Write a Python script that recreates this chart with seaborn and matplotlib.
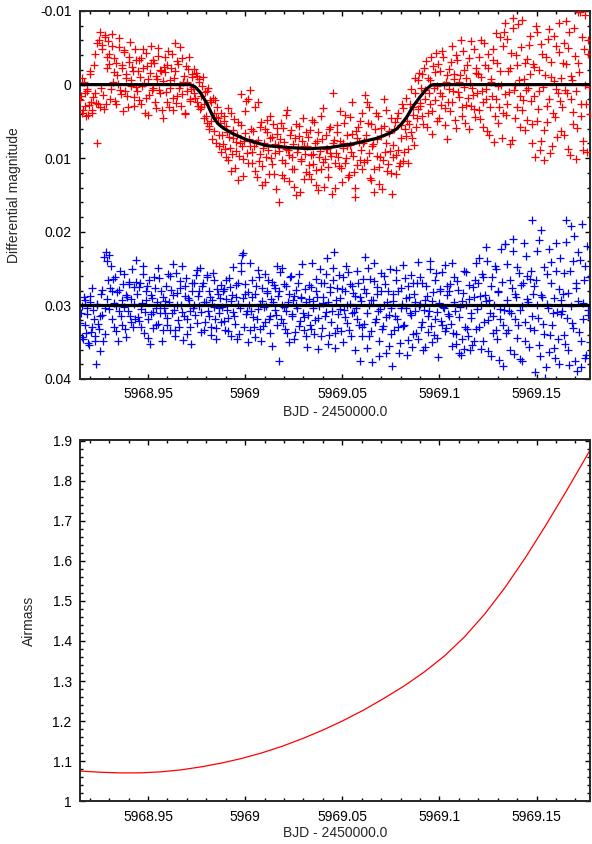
import matplotlib
matplotlib.use("Agg")
import numpy as np
import pandas as pd
import matplotlib.pyplot as plt
import seaborn as sns
from matplotlib.ticker import MultipleLocator, FuncFormatter

# --- Data ---
BJD_START = 5968.915   # BJD - 2450000.0 at the left edge

# exposure times, minutes after BJD_START (two interleaved blocks of frames)
TIME_MIN = [
    0.3, 1.3, 2.4, 3.4, 4.5, 5.5, 6.6, 7.6, 8.7, 9.8, 10.8, 11.8, 12.9, 14.0, 15.0, 16.1, 17.1, 18.2, 19.2, 20.3,
    21.3, 22.4, 23.4, 24.5, 25.5, 26.6, 27.6, 28.7, 29.7, 30.8, 31.8, 32.9, 33.9, 35.0, 36.0, 37.1, 38.1, 39.2, 40.2, 41.3,
    42.3, 43.4, 44.4, 45.5, 46.5, 47.6, 48.6, 49.7, 50.7, 51.8, 52.8, 53.9, 54.9, 56.0, 57.0, 58.1, 59.1, 60.2, 61.2, 62.3,
    63.3, 64.4, 65.4, 66.5, 67.5, 68.6, 69.6, 70.7, 71.7, 72.8, 73.8, 74.9, 75.9, 77.0, 78.0, 79.1, 80.1, 81.2, 82.2, 83.3,
    84.3, 85.3, 86.4, 87.4, 88.5, 89.5, 90.6, 91.6, 92.7, 93.8, 94.8, 95.8, 96.9, 98.0, 99.0, 100.1, 101.1, 102.2, 103.2, 104.3,
    105.3, 106.4, 107.4, 108.5, 109.5, 110.6, 111.6, 112.7, 113.7, 114.8, 115.8, 116.9, 117.9, 119.0, 120.0, 121.1, 122.1, 123.2, 124.2, 125.3,
    126.3, 127.4, 128.4, 129.5, 130.5, 131.6, 132.6, 133.7, 134.7, 135.8, 136.8, 137.9, 138.9, 140.0, 141.0, 142.1, 143.1, 144.2, 145.2, 146.3,
    147.3, 148.4, 149.4, 150.5, 151.5, 152.6, 153.6, 154.7, 155.7, 156.8, 157.8, 158.9, 159.9, 161.0, 162.0, 163.1, 164.1, 165.2, 166.2, 167.3,
    168.3, 169.4, 170.4, 171.5, 172.5, 173.6, 174.6, 175.7, 176.7, 177.8, 178.8, 179.9, 180.9, 182.0, 183.0, 184.1, 185.1, 186.2, 187.2, 188.3,
    189.3, 190.4, 191.4, 192.5, 193.5, 194.6, 195.6, 196.7, 197.7, 198.8, 199.8, 200.9, 201.9, 203.0, 204.0, 205.1, 206.1, 207.2, 208.2, 209.3,
    210.3, 211.4, 212.4, 213.5, 214.5, 215.6, 216.6, 217.7, 218.7, 219.8, 220.8, 221.9, 222.9, 224.0, 225.0, 226.1, 227.1, 228.2, 229.2, 230.3,
    231.3, 232.3, 233.4, 234.4, 235.5, 236.5, 237.6, 238.6, 239.7, 240.8, 241.8, 242.8, 243.9, 245.0, 246.0, 247.1, 248.1, 249.2, 250.2, 251.3,
    252.3, 253.4, 254.4, 255.5, 256.5, 257.6, 258.6, 259.7, 260.7, 261.8, 262.8, 263.9, 264.9, 266.0, 267.0, 268.1, 269.1, 270.2, 271.2, 272.3,
    273.3, 274.4, 275.4, 276.5, 277.5, 278.6, 279.6, 280.7, 281.7, 282.8, 283.8, 284.9, 285.9, 287.0, 288.0, 289.1, 290.1, 291.2, 292.2, 293.3,
    294.3, 295.4, 296.4, 297.5, 298.5, 299.6, 300.6, 301.7, 302.7, 303.8, 304.8, 305.9, 306.9, 308.0, 309.0, 310.1, 311.1, 312.2, 313.2, 314.3,
    315.3, 316.4, 317.4, 318.5, 319.5, 320.6, 321.6, 322.7, 323.7, 324.8, 325.8, 326.9, 327.9, 329.0, 330.0, 331.1, 332.1, 333.2, 334.2, 335.3,
    336.3, 337.4, 338.4, 339.5, 340.5, 341.6, 342.6, 343.7, 344.7, 345.8, 346.8, 347.9, 348.9, 350.0, 351.0, 352.1, 353.1, 354.2, 355.2, 356.3,
    357.3, 358.4, 359.4, 360.5, 361.5, 362.6, 363.6, 364.7, 365.7, 366.8, 367.8, 368.9, 369.9, 371.0, 372.0, 373.1, 374.1, 375.2, 376.2, 377.3,
    0.8, 1.8, 2.9, 3.9, 5.0, 6.0, 7.1, 8.1, 9.2, 10.3, 11.3, 12.3, 13.4, 14.5, 15.5, 16.6, 17.6, 18.7, 19.7, 20.8,
    21.8, 22.8, 23.9, 24.9, 26.0, 27.0, 28.1, 29.1, 30.2, 31.3, 32.3, 33.3, 34.4, 35.5, 36.5, 37.6, 38.6, 39.7, 40.7, 41.8,
    42.8, 43.8, 44.9, 45.9, 47.0, 48.0, 49.1, 50.1, 51.2, 52.3, 53.3, 54.3, 55.4, 56.5, 57.5, 58.6, 59.6, 60.7, 61.7, 62.8,
    63.8, 64.8, 65.9, 66.9, 68.0, 69.0, 70.1, 71.1, 72.2, 73.3, 74.3, 75.3, 76.4, 77.5, 78.5, 79.6, 80.6, 81.7, 82.7, 83.8,
    84.8, 85.8, 86.9, 87.9, 89.0, 90.0, 91.1, 92.1, 93.2, 94.3, 95.3, 96.3, 97.4, 98.5, 99.5, 100.6, 101.6, 102.7, 103.7, 104.8,
    105.8, 106.8, 107.9, 108.9, 110.0, 111.0, 112.1, 113.1, 114.2, 115.3, 116.3, 117.3, 118.4, 119.5, 120.5, 121.6, 122.6, 123.7, 124.7, 125.8,
    126.8, 127.8, 128.9, 129.9, 131.0, 132.0, 133.1, 134.1, 135.2, 136.3, 137.3, 138.3, 139.4, 140.5, 141.5, 142.6, 143.6, 144.7, 145.7, 146.8,
    147.8, 148.8, 149.9, 150.9, 152.0, 153.0, 154.1, 155.1, 156.2, 157.3, 158.3, 159.3, 160.4, 161.5, 162.5, 163.6, 164.6, 165.7, 166.7, 167.8,
    168.8, 169.8, 170.9, 171.9, 173.0, 174.0, 175.1, 176.1, 177.2, 178.3, 179.3, 180.3, 181.4, 182.5, 183.5, 184.6, 185.6, 186.7, 187.7, 188.8,
    189.8, 190.8, 191.9, 192.9, 194.0, 195.0, 196.1, 197.1, 198.2, 199.3, 200.3, 201.3, 202.4, 203.5, 204.5, 205.6, 206.6, 207.7, 208.7, 209.8,
    210.8, 211.8, 212.9, 213.9, 215.0, 216.0, 217.1, 218.1, 219.2, 220.3, 221.3, 222.3, 223.4, 224.5, 225.5, 226.6, 227.6, 228.7, 229.7, 230.8,
    231.8, 232.8, 233.9, 234.9, 236.0, 237.0, 238.1, 239.1, 240.2, 241.3, 242.3, 243.3, 244.4, 245.5, 246.5, 247.6, 248.6, 249.7, 250.7, 251.8,
    252.8, 253.8, 254.9, 255.9, 257.0, 258.0, 259.1, 260.1, 261.2, 262.3, 263.3, 264.3, 265.4, 266.5, 267.5, 268.6, 269.6, 270.7, 271.7, 272.8,
    273.8, 274.8, 275.9, 276.9, 278.0, 279.0, 280.1, 281.1, 282.2, 283.3, 284.3, 285.3, 286.4, 287.5, 288.5, 289.6, 290.6, 291.7, 292.7, 293.8,
    294.8, 295.8, 296.9, 297.9, 299.0, 300.0, 301.1, 302.1, 303.2, 304.3, 305.3, 306.3, 307.4, 308.5, 309.5, 310.6, 311.6, 312.7, 313.7, 314.8,
    315.8, 316.8, 317.9, 318.9, 320.0, 321.0, 322.1, 323.1, 324.2, 325.3, 326.3, 327.3, 328.4, 329.5, 330.5, 331.6, 332.6, 333.7, 334.7, 335.8,
    336.8, 337.8, 338.9, 339.9, 341.0, 342.0, 343.1, 344.1, 345.2, 346.3, 347.3, 348.3, 349.4, 350.5, 351.5, 352.6, 353.6, 354.7, 355.7, 356.8,
    357.8, 358.8, 359.9, 360.9, 362.0, 363.0, 364.1, 365.1, 366.2, 367.3, 368.3, 369.3, 370.4, 371.5, 372.5, 373.6, 374.6, 375.7, 376.7, 377.7,
]

# target star, differential magnitude in mmag
TARGET_MMAG = [
    2.1, -0.9, 3.4, 1.2, 4.3, 0.6, 2.8, -1.8, 3.9, 1.7, -4.2, 2.5, 7.9, -6.1, 3.1, -5.4, 1.4, -6.8, 2.6, -3.7,
    -2.8, 1.9, -5.2, -0.4, -3.6, 2.7, -1.3, -6.3, 0.8, -2.2, 3.6, -4.4, -0.9, 1.5, -3.1, -5.8, 0.2, -1.9, 2.9, -3.3,
    0.9, -3.4, -1.1, 2.6, -4.8, -0.2, 1.8, -2.5, 4.1, -1.6, -5.3, 0.5, -2.9, 3.2, -0.7, -3.9, 1.1, -1.8, 4.6, -2.4,
    -1.7, 2.3, -4.6, 0.4, -2.3, 3.5, -0.9, -5.7, 1.6, -2.8, 0.1, 2.9, -3.6, -1.2, 3.8, -0.3, -2.1, 1.9, 0.6, -1.4,
    -2.1, 1.8, -1.2, 2.9, -0.8, 3.1, 0.2, 4.6, 1.0, 5.2, 0.4, 6.1, 2.3, 7.4, 3.8, 2.1, 7.9, 4.6, 8.4, 3.9,
    6.9, 4.3, 8.8, 5.6, 10.2, 7.1, 3.9, 9.4, 6.2, 11.3, 7.8, 5.1, 9.7, 1.3, 8.3, 12.4, 6.6, 2.2, 10.6, 7.4,
    0.8, 9.1, 6.3, 11.8, 7.9, 2.4, 10.4, 5.7, 13.6, 8.6, 6.1, 9.9, 4.8, 12.1, 7.3, 10.8, 5.4, 8.1, 14.2, 6.7,
    16.0, 7.4, 10.3, 5.9, 12.7, 8.8, 3.4, 9.6, 6.8, 11.4, 8.1, 13.9, 5.3, 9.2, 7.0, 14.6, 10.1, 4.6, 8.4, 11.9,
    8.3, 10.9, 6.2, 12.8, 9.4, 5.1, 11.6, 7.7, 14.3, 9.0, 4.2, 10.5, 13.9, 6.9, 8.8, 11.2, 5.8, 9.7, 1.2, 7.5,
    14.1, 6.4, 9.8, 3.6, 11.3, 7.9, 5.2, 10.7, 8.3, 12.6, 4.4, 9.1, 6.7, 11.9, 15.3, 7.2, 5.8, 10.2, 8.9, 3.9,
    7.6, 1.4, 10.3, 5.2, 3.1, 12.9, 8.4, 14.6, 6.1, 9.7, 4.3, 11.2, 7.0, 14.2, 5.6, 9.1, 3.5, 10.8, 6.3, 12.0,
    14.8, 8.2, 5.1, 9.6, 3.8, 11.1, 7.3, 2.6, 10.4, 6.0, 1.8, 8.7, 5.4, 0.6, 7.2, 4.1, -0.9, 5.8, 3.3, -1.6,
    2.9, -1.4, 5.3, 0.7, -3.2, 3.8, 1.2, -0.6, 6.7, -2.5, 2.1, -4.3, 0.2, 4.6, -1.8, 1.6, -3.7, 3.2, -0.4, 7.4,
    -2.1, 3.6, -5.2, 0.9, -0.8, 5.9, -3.4, 1.7, -1.3, 4.2, -4.6, 0.3, 2.8, -2.7, 6.1, -0.2, -5.9, 1.4, 3.3, -1.6,
    1.2, -3.8, 4.7, -1.1, 2.4, -5.6, 0.6, 6.3, -2.3, 3.1, -0.4, -4.9, 7.8, 1.9, -2.9, 5.2, -6.4, 0.1, 3.9, -7.2,
    -8.4, 2.7, -1.9, 8.1, -4.3, -9.1, 0.8, 4.6, -2.6, -8.3, 1.5, -5.1, 3.4, -0.7, 6.2, -3.5, 0.4, -6.6, 2.2, 5.3,
    -2.4, 9.8, -7.1, 3.3, 0.9, 7.6, -4.2, 10.2, -1.3, 5.1, -6.2, 2.0, -3.1, 8.4, -0.5, 4.4, -5.3, 1.2, -8.4, 6.3,
    3.1, -5.6, 0.7, -2.8, 8.7, -7.2, 1.9, -0.6, 5.4, -3.9, 10.1, -9.8, -1.7, 4.2, -6.5, 8.9, -9.4, 2.6, -4.1, 0.3,
    1.5, 3.8, -0.3, 2.9, 0.9, 4.1, -1.4, 2.3, 3.5, -2.6, 1.1, -5.7, 2.7, -7.1, 0.4, -4.8, 3.3, -6.4, -2.2, -5.9,
    -4.1, 0.6, -6.9, -1.7, 2.2, -3.0, -0.1, -5.1, 1.3, -2.6, -4.7, 0.9, -1.5, 3.0, -3.8, -0.6, -2.4, 1.7, -4.9, 0.3,
    -1.9, 2.1, -3.6, 0.2, -2.2, 3.9, -4.3, -0.8, 1.4, -2.9, 0.7, -3.3, 2.4, -1.2, -5.0, 0.8, -2.0, 3.4, -0.5, -3.7,
    1.0, -2.6, 3.1, -0.6, -4.1, 1.8, -1.9, 2.5, -3.2, 0.5, -5.1, 1.3, -0.4, 4.0, -2.5, 0.9, -3.8, 2.2, -1.0, 0.3,
    1.1, -1.6, 2.4, -0.3, 3.3, 1.5, -1.0, 2.7, 4.2, 0.9, 5.6, 2.1, 4.9, 1.8, 6.3, 4.4, 3.0, 6.8, 5.2, 9.1,
    8.1, 5.0, 9.9, 6.4, 3.2, 8.6, 11.7, 7.2, 4.7, 9.0, 6.8, 12.9, 8.0, 5.5, 10.1, 7.7, 3.6, 9.3, 1.9, 8.4,
    6.0, 10.7, 8.4, 3.1, 12.6, 7.5, 9.4, 5.1, 11.0, 7.9, 13.3, 6.5, 8.9, 4.2, 10.0, 7.1, 12.2, 9.3, 5.9, 8.2,
    9.0, 5.2, 12.3, 7.8, 10.6, 4.1, 8.9, 13.1, 6.2, 9.8, 11.5, 7.3, 15.0, 8.5, 5.6, 10.4, 7.6, 12.8, 9.4, 6.5,
    7.1, 12.2, 9.5, 4.8, 10.8, 8.0, 13.6, 6.5, 9.9, 11.4, 7.4, 3.2, 10.1, 8.7, 12.5, 6.0, 9.3, 14.9, 7.9, 10.6,
    9.3, 5.5, 11.0, 7.6, 13.2, 8.6, 4.1, 10.0, 6.9, 12.3, 8.2, 2.4, 9.7, 14.0, 6.3, 10.9, 7.8, 4.9, 11.5, 8.0,
    10.5, 6.8, 2.3, 9.3, 12.7, 5.4, 8.1, 11.4, 3.9, 7.4, 13.5, 9.8, 5.9, 10.3, 2.0, 8.0, 11.7, 6.6, 9.0, 4.5,
    9.8, 6.1, 12.1, 4.6, 8.9, 10.6, 5.5, 3.2, 9.1, 7.0, 4.9, 10.7, 2.7, 6.4, 3.0, 8.2, 1.2, 4.6, -0.6, 2.5,
    0.4, 4.2, -2.2, 1.9, 5.8, -0.9, 2.6, -3.8, 3.6, 0.5, -1.7, 4.9, -2.8, 1.1, 2.8, -4.6, 0.0, 5.5, -1.3, 2.3,
    0.6, -3.1, 2.4, -1.5, 4.8, -4.0, 1.0, -0.3, -6.1, 3.0, -2.0, 5.2, -0.9, 1.8, -3.6, 2.9, 0.4, -4.9, 4.4, -2.3,
    -1.4, 3.5, -6.0, 0.9, 5.7, -2.6, 2.0, -4.1, 6.9, -0.7, 1.6, -3.3, 4.3, -7.0, 0.2, 3.0, -1.9, 7.2, -5.2, 1.3,
    4.1, -6.2, 1.0, -2.2, 7.5, -7.7, 0.1, -4.0, 3.0, -0.6, 5.8, -8.8, 2.1, -3.0, 0.7, 4.8, -5.4, -1.5, 8.0, -2.8,
    1.5, -8.0, 4.9, -2.0, 8.9, -5.5, 0.3, 6.2, -3.7, 2.9, -7.5, 9.3, -1.1, 3.8, -6.6, 0.6, 7.1, -4.4, 2.2, -0.9,
    -3.0, 6.8, -8.6, 1.1, -5.0, 9.6, -1.2, 3.7, -7.7, 0.9, 5.9, -2.9, -9.9, 2.6, 7.6, -4.8, 0.1, 9.2, -6.0, 4.0,
]

# comparison (check) star, mmag, shifted by 30 mmag
CHECK_MMAG = [
    32.4, 30.1, 34.6, 29.3, 33.8, 31.2, 35.4, 28.7, 32.9, 30.6, 34.1, 38.0, 29.8, 33.2, 31.5, 27.9, 34.9, 30.4, 22.8, 24.0,
    23.2, 27.6, 31.9, 26.4, 29.7, 33.5, 28.2, 30.8, 25.3, 32.6, 27.1, 30.2, 34.3, 28.9, 26.8, 31.4, 29.1, 33.0, 27.5, 23.8,
    28.4, 32.1, 26.9, 30.5, 24.6, 33.7, 29.2, 27.3, 31.8, 35.2, 28.6, 30.9, 26.2, 32.7, 29.6, 24.9, 31.1, 28.0, 33.4, 30.3,
    29.4, 31.7, 25.8, 33.3, 27.9, 24.4, 30.6, 34.2, 28.3, 32.0, 26.7, 29.9, 24.6, 31.4, 27.4, 33.9, 29.0, 30.7, 35.3, 28.1,
    26.9, 31.3, 25.2, 28.7, 30.1, 33.6, 27.4, 29.5, 32.2, 25.9, 30.8, 28.1, 34.0, 29.3, 26.5, 31.9, 33.1, 28.5, 30.4, 27.2,
    30.2, 27.8, 33.4, 29.1, 31.7, 26.3, 34.1, 28.6, 30.9, 32.5, 27.2, 29.8, 33.9, 25.3, 23.2, 22.9, 28.4, 31.2, 35.0, 30.0,
    24.2, 28.9, 31.6, 34.3, 27.3, 30.5, 26.1, 33.2, 29.4, 32.8, 25.7, 30.1, 28.3, 31.9, 33.7, 26.8, 29.6, 27.7, 31.3, 24.7,
    37.6, 25.4, 29.9, 32.4, 27.1, 30.7, 33.8, 28.4, 26.2, 31.5, 29.2, 34.6, 27.9, 30.3, 25.8, 32.1, 28.8, 31.0, 33.4, 29.5,
    35.7, 29.1, 32.6, 27.5, 30.4, 33.9, 26.4, 28.8, 31.7, 25.1, 34.2, 29.7, 27.0, 30.9, 23.5, 35.3, 28.2, 32.3, 26.6, 22.8,
    35.8, 27.6, 31.2, 29.0, 33.5, 26.2, 30.6, 28.1, 32.4, 25.5, 29.8, 34.1, 27.3, 30.9, 28.7, 31.8, 26.9, 37.6, 29.4, 32.9,
    27.8, 23.4, 31.0, 24.9, 34.1, 29.2, 37.7, 26.7, 32.3, 28.5, 30.7, 36.9, 25.6, 33.2, 29.9, 27.1, 31.6, 28.0, 35.5, 30.3,
    38.3, 28.4, 31.5, 25.2, 33.0, 36.4, 27.6, 29.8, 32.8, 26.3, 30.4, 34.7, 28.9, 31.3, 35.6, 27.0, 29.5, 33.8, 24.1, 30.1,
    26.1, 32.2, 36.1, 29.3, 27.4, 33.6, 30.7, 23.9, 35.0, 28.2, 31.9, 25.6, 34.4, 29.7, 27.8, 32.6, 30.2, 24.5, 33.1, 28.6,
    31.4, 27.1, 24.3, 33.8, 29.6, 35.2, 26.7, 36.4, 30.2, 34.5, 28.3, 35.9, 25.4, 33.2, 29.1, 36.1, 31.7, 27.5, 34.8, 24.2,
    30.5, 23.5, 28.7, 35.9, 26.2, 32.3, 29.4, 24.0, 36.2, 31.1, 27.3, 33.7, 29.9, 25.1, 34.6, 28.1, 31.8, 22.4, 38.3, 30.6,
    21.6, 29.3, 33.4, 26.5, 31.0, 21.0, 36.6, 28.4, 24.8, 32.7, 37.3, 27.2, 30.1, 21.5, 34.9, 26.0, 29.6, 33.1, 25.3, 18.4,
    27.4, 39.1, 22.6, 31.7, 35.4, 19.8, 28.8, 33.9, 39.8, 25.7, 30.4, 36.3, 24.1, 32.6, 29.0, 37.2, 21.5, 34.5, 27.8, 31.2,
    30.8, 25.6, 35.2, 18.4, 28.3, 38.1, 19.2, 32.4, 23.9, 37.5, 27.0, 22.7, 33.6, 38.4, 18.9, 29.7, 24.6, 36.7, 31.3, 26.2,
    31.0, 34.3, 28.8, 32.7, 30.3, 35.1, 29.5, 33.6, 27.6, 31.8, 34.8, 30.0, 32.5, 36.2, 28.4, 31.3, 23.4, 33.9, 29.1, 26.6,
    30.5, 24.7, 28.0, 32.9, 26.1, 30.1, 34.8, 27.9, 31.5, 29.2, 25.8, 33.2, 28.6, 30.7, 27.1, 32.2, 25.0, 29.8, 31.9, 26.8,
    31.6, 27.5, 33.0, 29.7, 25.7, 30.9, 28.0, 34.4, 26.6, 31.2, 29.0, 33.1, 27.7, 30.4, 32.5, 26.3, 29.9, 34.9, 28.9, 31.0,
    27.3, 32.6, 29.6, 26.0, 31.1, 28.6, 33.4, 25.6, 30.0, 32.9, 27.6, 30.9, 34.7, 28.7, 26.3, 31.8, 29.2, 33.0, 27.0, 30.3,
    29.9, 25.9, 32.4, 28.1, 24.9, 30.9, 27.0, 33.3, 29.6, 26.2, 31.4, 28.9, 32.9, 25.6, 30.2, 34.5, 27.8, 31.0, 29.0, 32.3,
    28.0, 32.1, 26.6, 30.6, 33.5, 27.5, 29.4, 24.8, 31.5, 28.8, 34.6, 26.9, 30.4, 24.3, 29.0, 32.9, 27.1, 30.8, 28.2, 33.3,
    30.8, 26.5, 33.0, 28.5, 31.8, 25.2, 29.8, 34.9, 27.6, 30.2, 32.3, 28.0, 26.6, 31.4, 29.1, 35.5, 27.2, 30.6, 32.6, 28.7,
    28.1, 31.9, 24.9, 30.2, 33.2, 27.3, 29.6, 35.0, 26.0, 31.2, 28.7, 33.6, 30.0, 26.9, 32.8, 29.0, 24.4, 31.6, 27.8, 34.2,
    31.3, 27.2, 33.2, 24.3, 29.4, 32.0, 28.0, 35.9, 30.1, 26.9, 33.1, 28.9, 31.5, 25.8, 29.6, 34.0, 27.5, 30.8, 24.9, 33.7,
    29.2, 33.1, 25.9, 30.5, 27.8, 35.0, 31.6, 24.6, 29.9, 33.4, 27.1, 31.1, 28.3, 36.0, 30.3, 25.3, 32.7, 28.9, 34.2, 26.4,
    32.5, 28.3, 35.8, 30.0, 26.4, 33.5, 29.3, 24.2, 31.8, 27.5, 34.8, 30.5, 28.1, 32.8, 26.0, 36.4, 29.6, 31.3, 25.1, 33.9,
    29.4, 33.3, 26.6, 31.8, 28.0, 35.1, 30.3, 24.5, 32.6, 29.0, 36.8, 27.3, 31.0, 25.9, 33.9, 28.5, 30.7, 26.9, 34.5, 29.8,
    33.0, 27.0, 30.6, 35.6, 28.7, 31.5, 25.1, 32.8, 29.4, 34.0, 26.5, 30.9, 37.0, 28.1, 32.1, 25.4, 30.3, 33.5, 27.4, 31.2,
    28.0, 32.5, 35.5, 26.1, 30.8, 33.9, 27.9, 31.6, 36.7, 29.4, 25.3, 32.9, 30.0, 34.1, 27.2, 31.0, 35.4, 28.8, 26.6, 33.2,
    27.0, 33.0, 30.0, 25.8, 34.9, 28.6, 22.0, 32.0, 29.3, 36.9, 26.2, 31.4, 24.7, 33.4, 28.2, 37.4, 30.5, 26.8, 32.7, 21.6,
    33.7, 24.4, 30.7, 36.0, 27.7, 22.6, 31.9, 28.9, 34.4, 25.6, 30.6, 37.6, 27.0, 32.3, 23.3, 29.1, 35.6, 26.4, 31.5, 28.5,
    33.4, 26.5, 30.0, 21.1, 36.9, 28.6, 32.5, 24.8, 38.4, 29.8, 22.3, 34.0, 27.0, 31.1, 35.8, 25.3, 30.9, 37.9, 23.6, 29.3,
    28.4, 34.0, 21.4, 31.7, 36.1, 25.3, 30.1, 33.1, 20.6, 27.7, 38.9, 29.4, 23.8, 34.8, 31.9, 26.5, 37.2, 21.9, 30.6, 35.0,
]

# transit model curve (minutes, mmag)
MODEL_MIN = [0.0, 81.5, 85.2, 88.9, 93.9, 98.7, 102.2, 106.1, 113.6, 123.5, 138.3, 155.6, 170.4,
             185.2, 202.2, 220.0, 229.6, 234.8, 238.5, 242.2, 246.7, 251.9, 256.3, 260.0, 262.2, 378.0]
MODEL_MMAG = [0.0, 0.0, 0.3, 1.0, 2.5, 4.4, 5.3, 5.9, 6.7, 7.5, 8.3, 8.57, 8.7,
              8.55, 8.05, 7.3, 6.6, 6.0, 5.3, 4.4, 3.0, 1.7, 0.7, 0.1, 0.0, 0.0]
CHECK_LEVEL_MIN = [0.0, 378.0]
CHECK_LEVEL_MMAG = [30.0, 30.0]

# airmass curve (minutes, airmass)
AIRMASS_MIN = [0, 15, 30, 45, 60, 75, 90, 105, 120, 135, 150, 165, 180, 195, 210, 225,
               240, 255, 270, 285, 300, 315, 330, 345, 360, 378]
AIRMASS = [1.0755, 1.0725, 1.0708, 1.0710, 1.0735, 1.0785, 1.0860, 1.0955, 1.1070, 1.1210,
           1.1375, 1.1565, 1.1777, 1.2012, 1.2272, 1.2562, 1.2872, 1.3222, 1.3622, 1.4102,
           1.4672, 1.5332, 1.6072, 1.6872, 1.7712, 1.8756]

# --- Tables ---
def bjd(minutes):
    return BJD_START + np.asarray(minutes, dtype=float) / 1440.0

lc = pd.DataFrame({"bjd": bjd(TIME_MIN),
                   "target": np.array(TARGET_MMAG) / 1000.0,
                   "check": np.array(CHECK_MMAG) / 1000.0})
model = pd.DataFrame({"bjd": bjd(MODEL_MIN), "mag": np.array(MODEL_MMAG) / 1000.0})
level = pd.DataFrame({"bjd": bjd(CHECK_LEVEL_MIN), "mag": np.array(CHECK_LEVEL_MMAG) / 1000.0})
am = pd.DataFrame({"bjd": bjd(AIRMASS_MIN), "airmass": AIRMASS})

# --- Plot ---
sns.set_style("ticks")
plt.rcParams["font.family"] = ["Liberation Sans", "DejaVu Sans"]
plt.rcParams["font.size"] = 10

W, H = 592, 844
fig = plt.figure(figsize=(W / 100, H / 100), dpi=100)
ax1 = fig.add_axes([80 / W, 1 - 379 / H, 510 / W, 368 / H])
ax2 = fig.add_axes([80 / W, 1 - 801.3 / H, 510 / W, 360.8 / H])

sns.scatterplot(data=lc, x="bjd", y="check", marker="+", color="#0000ff",
                s=26, linewidth=0.9, ax=ax1, zorder=2)
sns.scatterplot(data=lc, x="bjd", y="target", marker="+", color="#ff0000",
                s=26, linewidth=0.9, ax=ax1, zorder=3)
sns.lineplot(data=model, x="bjd", y="mag", color="black", lw=2.3,
             estimator=None, sort=False, ax=ax1, zorder=4)
sns.lineplot(data=level, x="bjd", y="mag", color="black", lw=2.3,
             estimator=None, sort=False, ax=ax1, zorder=4)

sns.lineplot(data=am, x="bjd", y="airmass", color="#ff0000", lw=0.9,
             estimator=None, sort=False, ax=ax2)

fmt = FuncFormatter(lambda v, pos: "%g" % round(v, 6))
for ax in (ax1, ax2):
    ax.set_xlim(BJD_START, BJD_START + 378 / 1440)
    ax.xaxis.set_major_locator(MultipleLocator(0.05))
    ax.xaxis.set_minor_locator(MultipleLocator(0.01))
    ax.xaxis.set_major_formatter(fmt)
    ax.yaxis.set_major_formatter(fmt)
    ax.tick_params(which="both", direction="in", top=True, right=True,
                   width=1.0, labelsize=10, colors="black")
    ax.tick_params(which="major", length=3.5, pad=6)
    ax.tick_params(which="minor", length=2.0)
    for sp in ax.spines.values():
        sp.set_linewidth(1.4)
        sp.set_visible(True)
    ax.set_xlabel("BJD - 2450000.0", fontsize=10)

ax1.set_ylim(0.04, -0.01)
ax1.yaxis.set_major_locator(MultipleLocator(0.01))
ax1.yaxis.set_minor_locator(MultipleLocator(0.002))
ax1.set_ylabel("Differential magnitude", fontsize=10)
ax1.yaxis.set_label_coords(-0.116, 0.5)
ax1.xaxis.set_label_coords(0.5, -0.07)

ax2.set_ylim(1.0, 1.9)
ax2.yaxis.set_major_locator(MultipleLocator(0.1))
ax2.yaxis.set_minor_locator(MultipleLocator(0.02))
ax2.set_ylabel("Airmass", fontsize=10)
ax2.yaxis.set_label_coords(-0.086, 0.5)
ax2.xaxis.set_label_coords(0.5, -0.068)

fig.savefig("out.png", dpi=100)
